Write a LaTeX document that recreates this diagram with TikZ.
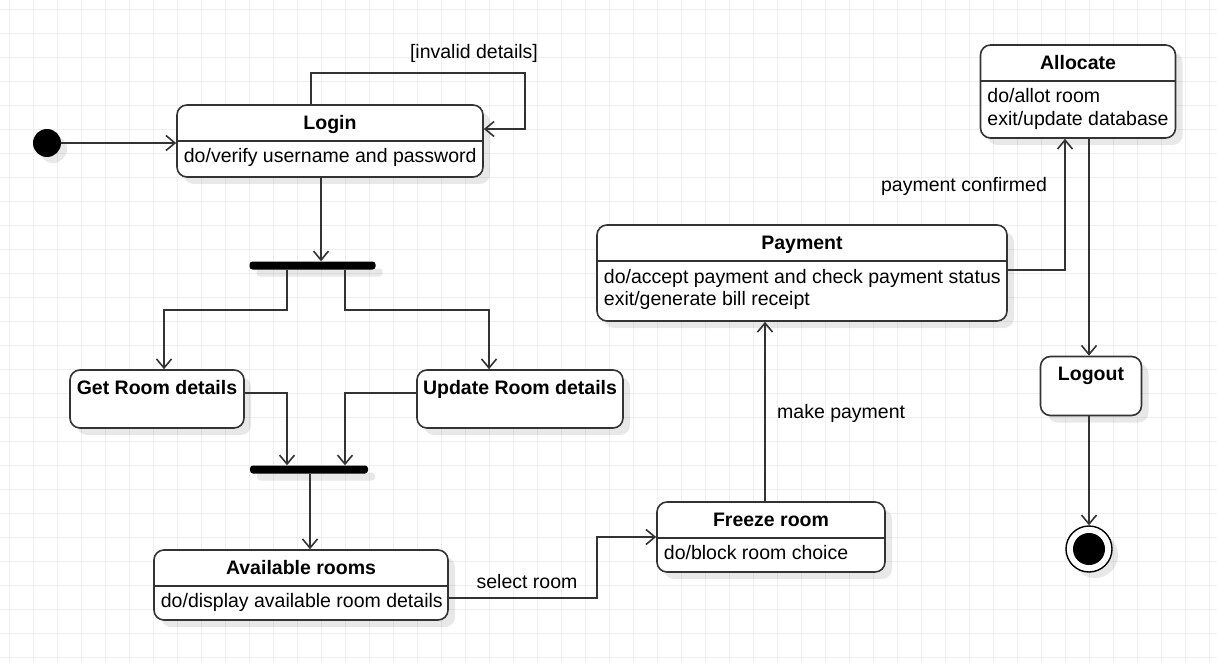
\documentclass[tikz,border=0pt]{standalone}
\usepackage{fontspec}
\setmainfont{Liberation Sans}
\usetikzlibrary{arrows.meta,calc,shadows}
\definecolor{gridgray}{HTML}{EFEFEF}
\definecolor{linegray}{HTML}{333333}

\tikzset{
  state/.style={draw=linegray, line width=1.6, rounded corners=10, fill=white, inner sep=0,
    drop shadow={shadow xshift=7pt, shadow yshift=-7pt, fill=black, opacity=0.09}},
  bar/.style={fill=black, rounded corners=3, inner sep=0, minimum height=8,
    drop shadow={shadow xshift=7pt, shadow yshift=-7pt, fill=black, opacity=0.09}},
  title/.style={anchor=base, execute at begin node=\bfseries},
  body/.style={anchor=base west, inner sep=0},
  lbl/.style={anchor=base, inner sep=0},
  divider/.style={draw=linegray, line width=1.6},
  flow/.style={draw=linegray, line width=1.6, -{Straight Barb[length=9pt, width=15pt]}},
  gridline/.style={draw=gridgray, line width=1}
}

\begin{document}
\begin{tikzpicture}[x=1pt, y=-1pt, font=\fontsize{19.5}{23}\selectfont]
            \useasboundingbox (0,0) rectangle (1217,663);
            \fill[white] (0,0) rectangle (1217,663);
            \foreach \k in {0,...,50} \draw[gridline] ({9.3+24*\k},0) -- ({9.3+24*\k},663);
            \foreach \k in {0,...,27} \draw[gridline] (0,{9.3+24*\k}) -- (1217,{9.3+24*\k});

            % start and end
            \node[circle, fill=black, inner sep=0, minimum size=28,
              drop shadow={shadow xshift=6pt, shadow yshift=-6pt, fill=black, opacity=0.09}] (init) at (47,143) {};
            \node[circle, draw=black, line width=1.4, fill=white, inner sep=0, minimum size=46,
              drop shadow={shadow xshift=6pt, shadow yshift=-6pt, fill=black, opacity=0.09}] (final) at (1089,549) {};
            \fill[black] (final.center) circle[radius=16];

            % states
            \node[state, minimum width=306, minimum height=72] (login) at (330,141) {};
            \node[title] (login-title) at ($(login.north)+(0,25)$) {Login};
            \draw[divider] ($(login.north west)+(0,37)$) -- ($(login.north east)+(0,37)$);
            \node[body] (login-do) at ($(login.north west)+(7.5,58.5)$) {do/verify username and password};

            \node[state, minimum width=174, minimum height=58] (getroom) at (157,399) {};
            \node[title] (getroom-title) at ($(getroom.north)+(0,25)$) {Get Room details};

            \node[state, minimum width=206, minimum height=58] (updroom) at (520,399) {};
            \node[title] (updroom-title) at ($(updroom.north)+(0,25)$) {Update Room details};

            \node[state, minimum width=294, minimum height=70] (avail) at (301,585) {};
            \node[title] (avail-title) at ($(avail.north)+(0,25)$) {Available rooms};
            \draw[divider] ($(avail.north west)+(0,37)$) -- ($(avail.north east)+(0,37)$);
            \node[body] (avail-do) at ($(avail.north west)+(7.5,58.5)$) {do/display available room details};

            \node[state, minimum width=228, minimum height=70] (freeze) at (771,537) {};
            \node[title] (freeze-title) at ($(freeze.north)+(0,25)$) {Freeze room};
            \draw[divider] ($(freeze.north west)+(0,37)$) -- ($(freeze.north east)+(0,37)$);
            \node[body] (freeze-do) at ($(freeze.north west)+(7.5,58.5)$) {do/block room choice};

            \node[state, minimum width=410, minimum height=96] (payment) at (802,273) {};
            \node[title] (payment-title) at ($(payment.north)+(0,25)$) {Payment};
            \draw[divider] ($(payment.north west)+(0,37)$) -- ($(payment.north east)+(0,37)$);
            \node[body] (payment-do) at ($(payment.north west)+(7.5,59)$) {do/accept payment and check payment status};
            \node[body] (payment-exit) at ($(payment.north west)+(7.5,81.7)$) {exit/generate bill receipt};

            \node[state, minimum width=195, minimum height=93] (allocate) at (1078,91.5) {};
            \node[title] (allocate-title) at ($(allocate.north)+(0,25)$) {Allocate};
            \draw[divider] ($(allocate.north west)+(0,37)$) -- ($(allocate.north east)+(0,37)$);
            \node[body] (allocate-do) at ($(allocate.north west)+(7.5,58.5)$) {do/allot room};
            \node[body] (allocate-exit) at ($(allocate.north west)+(7.5,81.7)$) {exit/update database};

            \node[state, minimum width=101, minimum height=59] (logout) at (1091,386) {};
            \node[title] (logout-title) at ($(logout.north)+(0,25)$) {Logout};

            % fork and join bars
            \node[bar, minimum width=126] (fork) at (312.5,265.5) {};
            \node[bar, minimum width=118] (join) at (309,469.5) {};

            % transitions
            \draw[flow] (init.east) -- (login.west |- init.east);
            \draw[flow] (login.north -| 311,0) -- (311,73) -| (525,129) -- (login.east |- 0,129);
            \node[lbl] (invalid) at (474,59) {[invalid details]};
            \draw[flow] (login.south -| 321,0) -- (fork.north -| 321,0);
            \draw[flow] (fork.south -| 287,0) -- (287,310) -| (getroom.north -| 164,0);
            \draw[flow] (fork.south -| 345,0) -- (345,310) -| (updroom.north -| 489,0);
            \draw[flow] (getroom.east |- 0,393) -| (join.north -| 287,0);
            \draw[flow] (updroom.west |- 0,393) -| (join.north -| 345,0);
            \draw[flow] (join.south -| 310,0) -- (avail.north -| 310,0);
            \draw[flow] (avail.east |- 0,598) -- (597,598) |- (freeze.west |- 0,537);
            \node[lbl] (select) at (527,588) {select room};
            \draw[flow] (freeze.north -| 765,0) -- (payment.south -| 765,0);
            \node[lbl, anchor=base west] (make) at (777,418) {make payment};
            \draw[flow] (payment.east |- 0,270) -| (allocate.south -| 1065,0);
            \node[lbl] (confirmed) at (964,192) {payment confirmed};
            \draw[flow] (allocate.south -| 1089,0) -- (logout.north -| 1089,0);
            \draw[flow] (logout.south -| 1089,0) -- (final.north);
\end{tikzpicture}
\end{document}
